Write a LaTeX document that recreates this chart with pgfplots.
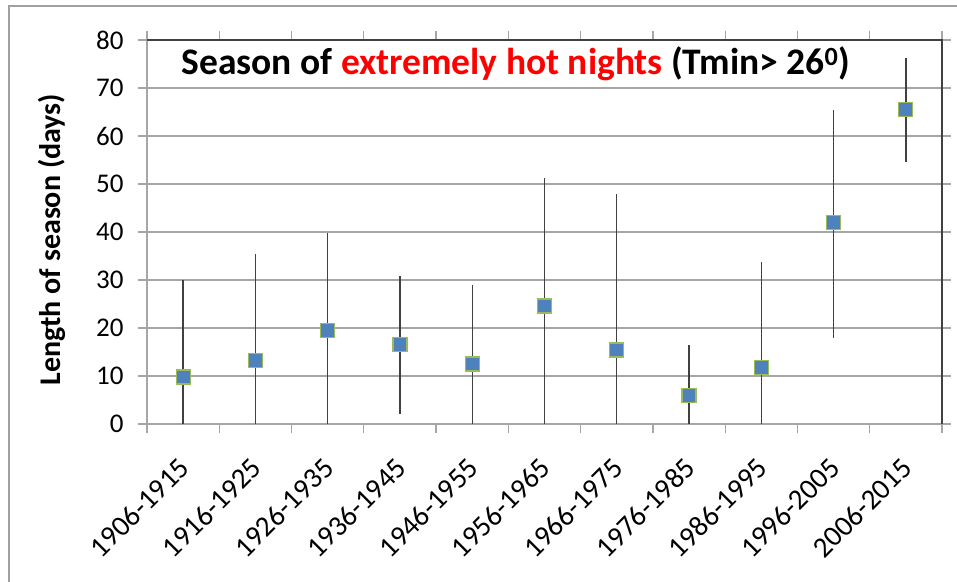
\documentclass[border=0pt]{standalone}
\usepackage{fontspec}
\setmainfont{Carlito}
\usepackage{pgfplots}
\pgfplotsset{compat=1.18}
\usepackage{pgfplotstable}
\definecolor{markblue}{HTML}{4F81BD}
\definecolor{markgreen}{HTML}{9BBB59}
\definecolor{gridgray}{HTML}{A6A6A6}
\definecolor{framegray}{HTML}{A0A0A0}
\definecolor{darkline}{HTML}{404040}
\definecolor{titlered}{HTML}{FF0000}

% decade, mean season length, lowest, highest (days)
\pgfplotstableread{
x y lo hi
0 9.8 0 30
1 13.3 0 35.4
2 19.4 0 39.8
3 16.5 2 30.8
4 12.5 0 29
5 24.6 0 51.2
6 15.4 0 48
7 6.0 0 16.5
8 11.7 0 33.7
9 41.9 18 65.4
10 65.6 54.6 76.3
}\seasondata

\begin{document}
\begin{tikzpicture}[x=1pt,y=1pt]
\path[use as bounding box] (-147,-157) rectangle (810,424);
\draw[framegray, line width=2pt] (-138,-190) rectangle (840,418);
\begin{axis}[
    at={(0,0)}, anchor=south west,
    scale only axis,
    width=795pt, height=384pt,
    xmin=-0.5, xmax=10.5,
    ymin=0, ymax=80,
    ytick={0,10,...,80},
    xtick={0,...,10},
    xticklabels={1906-1915,1916-1925,1926-1935,1936-1945,1946-1955,1956-1965,1966-1975,1976-1985,1986-1995,1996-2005,2006-2015},
    minor xtick={-0.5,0.5,...,10.5},
    major x tick style={draw=none},
    tick align=outside,
    major tick length=9pt,
    minor tick length=9pt,
    tick style={gridgray, line width=1.2pt},
    axis line style={gridgray, line width=1.2pt},
    ymajorgrids,
    major grid style={gridgray, line width=1.2pt},
    /pgf/number format/assume math mode=true,
    ticklabel style={font=\fontsize{27}{31}\selectfont},
    yticklabel style={xshift=-11pt},
    xticklabel style={font=\fontsize{29}{33}\selectfont, xshift=-6pt, yshift=-18pt, rotate=45, anchor=north east},
    ylabel={Length of season (days)},
    ylabel style={font=\fontsize{30}{34}\selectfont\bfseries, at={(axis description cs:-0.119,0.48)}, anchor=center},
    title={Season of \textcolor{titlered}{extremely hot nights} (Tmin> 26\textsuperscript{0})},
    title style={font=\fontsize{37.5}{42}\selectfont\bfseries, at={(axis description cs:0.464,0.922)}, anchor=center},
    clip=false,
]
\addplot[draw=none, mark=none,
    error bars/.cd, y dir=both, y explicit,
    error mark=none,
    error bar style={darkline, line width=1.4pt}]
    table[x=x, y=y,
          y error plus expr=\thisrow{hi}-\thisrow{y},
          y error minus expr=\thisrow{y}-\thisrow{lo}] {\seasondata};
\addplot[only marks, mark=square*, mark size=7pt,
    mark options={fill=markblue, draw=markgreen, line width=1.2pt}]
    table[x=x, y=y] {\seasondata};
\draw[darkline, line width=1.3pt] (rel axis cs:0,1) -- (rel axis cs:1,1) -- (rel axis cs:1,0);
\end{axis}
\end{tikzpicture}
\end{document}
